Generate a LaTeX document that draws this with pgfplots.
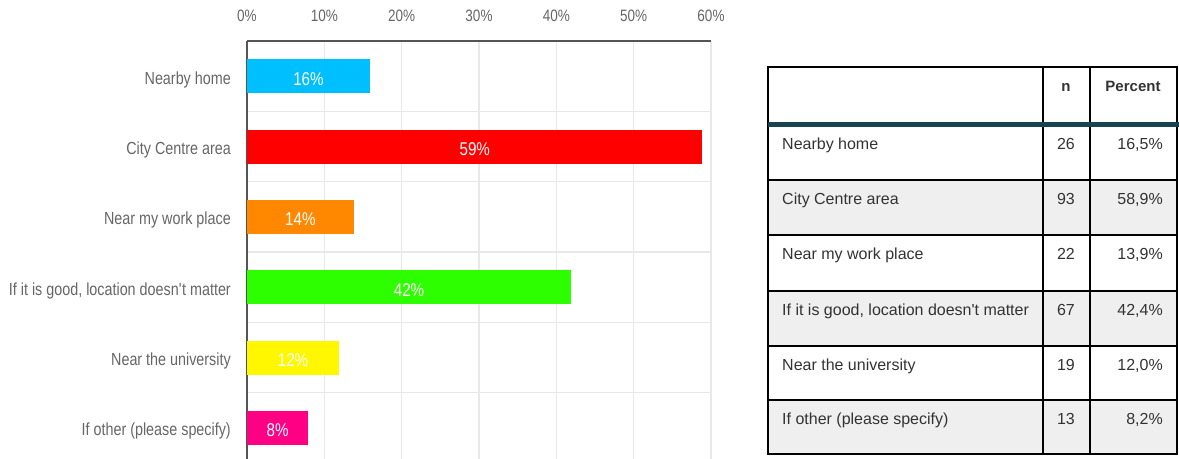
\documentclass[border=0pt]{standalone}
\usepackage{pgfplots}
\pgfplotsset{compat=1.18}
\usepackage{fontspec}
\setmainfont{Liberation Sans}
\newfontfamily\narrow[FakeStretch=0.82]{Liberation Sans}
\definecolor{labgray}{HTML}{666666}
\definecolor{gridgray}{HTML}{E8E8E8}
\definecolor{axgray}{HTML}{555555}
\definecolor{cA}{HTML}{00BFFF}
\definecolor{cB}{HTML}{FF0000}
\definecolor{cC}{HTML}{FF8800}
\definecolor{cD}{HTML}{2EFF00}
\definecolor{cE}{HTML}{FFF700}
\definecolor{cF}{HTML}{FF0084}
\definecolor{tabtext}{HTML}{333333}
\definecolor{tabrule}{HTML}{17444F}
\definecolor{rowgray}{HTML}{EFEFEF}
\begin{document}
\begin{tikzpicture}
\useasboundingbox (0,0) rectangle (1179bp,-459bp);
\begin{axis}[
  at={(247bp,-41bp)}, anchor=north west,
  scale only axis, width=464bp, height=422bp,
  xmin=0, xmax=60, ymin=0.5, ymax=6.5, y dir=reverse,
  axis x line*=top, axis y line*=left,
  axis line style={draw=axgray, line width=1.2bp},
  xtick={0,10,20,30,40,50,60},
  xticklabels={0\%,10\%,20\%,30\%,40\%,50\%,60\%},
  xticklabel style={font=\narrow\fontsize{16.5bp}{18bp}\selectfont, text=labgray, anchor=south, inner sep=0pt, yshift=19bp},
  ytick={1,2,3,4,5,6},
  yticklabels={Nearby home, City Centre area, Near my work place, {If it is good, location doesn\textquotesingle t matter}, Near the university, If other (please specify)},
  yticklabel style={font=\narrow\fontsize{17.5bp}{19bp}\selectfont, text=labgray, anchor=base east, inner sep=0pt, xshift=-16bp, yshift=-8bp},
  minor ytick={1.5,2.5,3.5,4.5,5.5},
  xmajorgrids, yminorgrids,
  major grid style={draw=gridgray, line width=1.5bp},
  minor grid style={draw=gridgray, line width=1.5bp},
  major tick length=0pt, minor tick length=0pt,
  tick style={draw=none},
  xbar, bar width=34bp, bar shift=0pt,
  visualization depends on={x \as \rawx},
  nodes near coords align={center},
  every node near coord/.append style={anchor=center, shift={(axis direction cs:-\rawx/2,0)}, yshift=-2.5bp, text=white, font=\narrow\fontsize{18.5bp}{20bp}\selectfont},
  clip=false,
]
\addplot[fill=cA, draw=none, nodes near coords={16\%}] coordinates {(15.9,1)};
\addplot[fill=cB, draw=none, nodes near coords={59\%}] coordinates {(58.9,2)};
\addplot[fill=cC, draw=none, nodes near coords={14\%}] coordinates {(13.8,3)};
\addplot[fill=cD, draw=none, nodes near coords={42\%}] coordinates {(41.9,4)};
\addplot[fill=cE, draw=none, nodes near coords={12\%}] coordinates {(11.9,5)};
\addplot[fill=cF, draw=none, nodes near coords={8\%}] coordinates {(7.9,6)};
\end{axis}
\begin{scope}[x=1bp, y=-1bp]
  \fill[rowgray] (768,180) rectangle (1177,235);
  \fill[rowgray] (768,291) rectangle (1177,346);
  \fill[rowgray] (768,400) rectangle (1177,454);
  \draw[black, line width=2bp] (768,67) rectangle (1177,454);
  \foreach \yy in {180,235,291,346,400} {\draw[black, line width=2bp] (768,\yy) -- (1177,\yy);}
  \draw[black, line width=2bp] (1043,67) -- (1043,454);
  \draw[black, line width=2bp] (1090,67) -- (1090,454);
  \draw[tabrule, line width=5bp] (768,124.5) -- (1179,124.5);
  \begin{scope}[every node/.style={inner sep=0pt, text=tabtext, font=\fontsize{16bp}{18bp}\selectfont}]
    \node[anchor=base, font=\bfseries\fontsize{15bp}{17bp}\selectfont] at (1066,91) {n};
    \node[anchor=base, font=\bfseries\fontsize{15bp}{17bp}\selectfont] at (1133,91) {Percent};
    \node[anchor=base west] at (782,149) {Nearby home};
    \node[anchor=base] at (1066,149) {26};
    \node[anchor=base east] at (1163,149) {16,5\%};
    \node[anchor=base west] at (782,204) {City Centre area};
    \node[anchor=base] at (1066,204) {93};
    \node[anchor=base east] at (1163,204) {58,9\%};
    \node[anchor=base west] at (782,259) {Near my work place};
    \node[anchor=base] at (1066,259) {22};
    \node[anchor=base east] at (1163,259) {13,9\%};
    \node[anchor=base west] at (782,315) {If it is good, location doesn\textquotesingle t matter};
    \node[anchor=base] at (1066,315) {67};
    \node[anchor=base east] at (1163,315) {42,4\%};
    \node[anchor=base west] at (782,370) {Near the university};
    \node[anchor=base] at (1066,370) {19};
    \node[anchor=base east] at (1163,370) {12,0\%};
    \node[anchor=base west] at (782,424) {If other (please specify)};
    \node[anchor=base] at (1066,424) {13};
    \node[anchor=base east] at (1163,424) {8,2\%};
  \end{scope}
\end{scope}
\end{tikzpicture}
\end{document}
